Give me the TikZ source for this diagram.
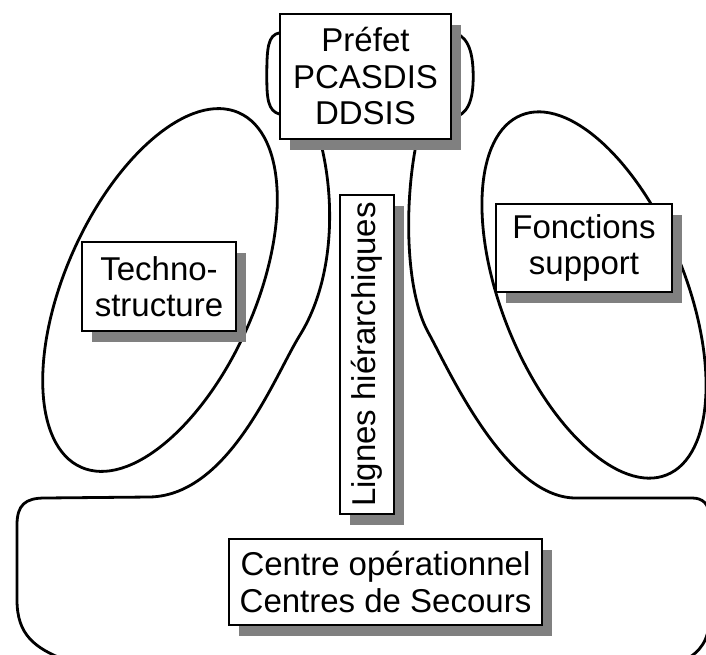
\documentclass[tikz,border=0pt]{standalone}
\usepackage{fontspec}
\setmainfont{Liberation Sans}
\usetikzlibrary{shadows,calc}
\definecolor{shadowgray}{HTML}{808080}
\begin{document}
\begin{tikzpicture}[x=1pt,y=-1pt,
  curve/.style={line width=2.8pt, line cap=round, line join=round},
  card/.style={draw, line width=1.8pt, fill=white, inner sep=0pt, align=center,
     font=\fontsize{33}{36.5}\selectfont,
     general shadow={fill=shadowgray, shadow xshift=10pt, shadow yshift=-11pt}},
]
\useasboundingbox (0,0) rectangle (706,655);
\clip (0,0) rectangle (706,655);

% invisible placeholders to get anchors before drawing curves
\path (365.5,76.5) node[inner sep=0pt, minimum width=171pt, minimum height=125pt] (prefet) {};

% ellipses
\draw[curve, rotate around={-24:(160,290)}] (160,290) ellipse [x radius=95pt, y radius=194pt];
\draw[curve, rotate around={22:(594,295)}] (594,295) ellipse [x radius=92pt, y radius=194pt];

% side loops of the apex
\draw[curve] ($(prefet.north west)+(0,19)$) .. controls ($(prefet.north west)+(-12,21)$) and ($(prefet.north west)+(-13,34)$) .. ($(prefet.west)+(-13,0)$)
  .. controls ($(prefet.south west)+(-13,-41)$) and ($(prefet.south west)+(-12,-28)$) .. ($(prefet.south west)+(0,-25)$);
\draw[curve] ($(prefet.north east)+(0,18)$) .. controls ($(prefet.north east)+(15,21)$) and ($(prefet.north east)+(22,34)$) .. ($(prefet.east)+(22,0)$)
  .. controls ($(prefet.south east)+(22,-39)$) and ($(prefet.south east)+(17,-24)$) .. ($(prefet.south east)+(0,-21)$);

% hierarchical lines merging into the operating core
\draw[curve] ($(prefet.south west)+(40,0)$) .. controls (336,200) and (334,280) .. (300,335)
  .. controls (275,375) and (230,495) .. (150,497) -- (45,498)
  .. controls (25,498) and (17,505) .. (17,525) -- (17,600)
  .. controls (17,635) and (35,648) .. (65,660);
\draw[curve] ($(prefet.south east)+(-34,0)$) .. controls (404,200) and (405,290) .. (428,332)
  .. controls (448,368) and (505,497) .. (575,498) -- (692,498)
  .. controls (703,498) and (709,504) .. (709,516) -- (709,620)
  .. controls (709,640) and (700,652) .. (685,660);

% boxes
\node[card, minimum width=171pt, minimum height=125pt] (prefetbox) at (prefet.center) {Préfet\\PCASDIS\\DDSIS};
\node[card, minimum width=154pt, minimum height=89pt] (techno) at (159,286.5) {Techno-\\structure};
\node[card, minimum width=176pt, minimum height=88pt] (fonctions) at (584,248) {Fonctions\\support};
\node[card, minimum width=54pt, minimum height=319pt] (lignes) at (367,354.5) {\rotatebox{90}{Lignes hiérarchiques}};
\node[card, minimum width=313pt, minimum height=86pt] (centre) at (385.5,582) {Centre opérationnel\\Centres de Secours};
\end{tikzpicture}
\end{document}
